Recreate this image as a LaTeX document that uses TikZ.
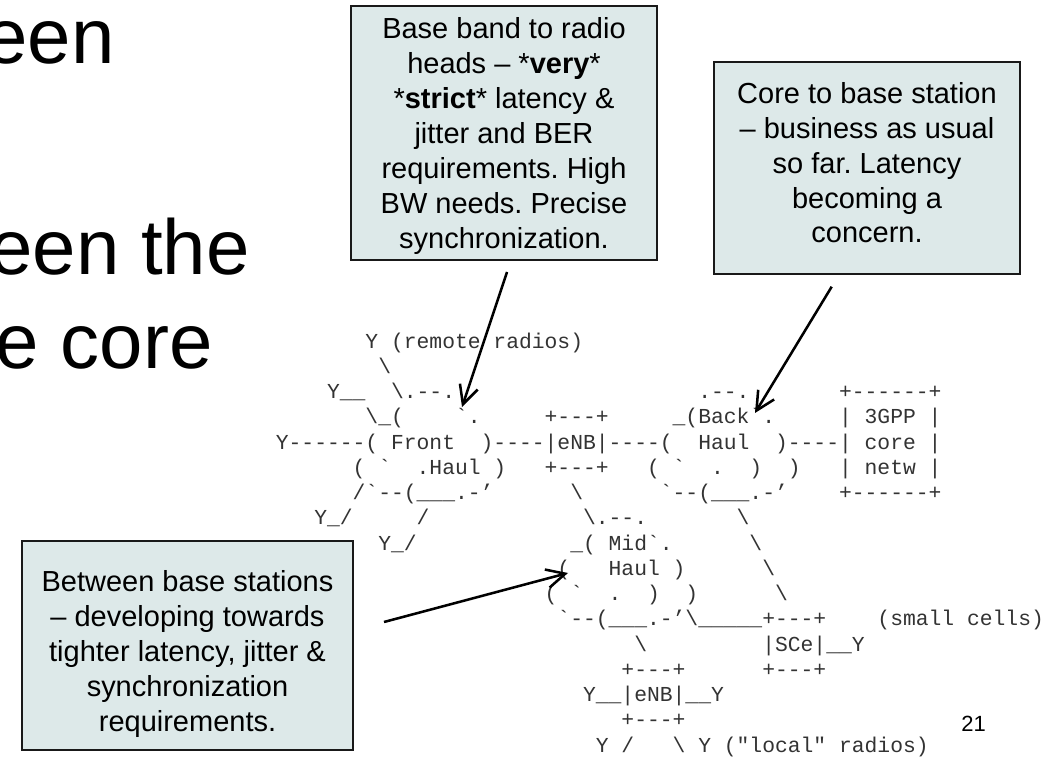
\documentclass[tikz,border=0pt]{standalone}
\usepackage{fontspec}
\setmainfont{Liberation Sans}
\setmonofont{Liberation Mono}
\usetikzlibrary{arrows.meta}
\frenchspacing
\definecolor{calloutfill}{RGB}{221,233,233}
\newcommand\asciifrag[4]{\node[asciitxt] (#1) at ({275.6+12.8*#3},{322.9+25.25*#2}) {#4};}
\tikzset{
  callout/.style={draw=black!90, line width=1.5pt, fill=calloutfill, inner sep=0pt},
  callouttext/.style={align=center, anchor=base, inner sep=0pt, font=\fontsize{21.75}{26.2}\selectfont},
  asciitxt/.style={anchor=base west, inner sep=0pt, text=black!80, font=\ttfamily\fontsize{16}{19}\selectfont},
  bigtxt/.style={anchor=base east, inner sep=0pt, font=\fontsize{58.5}{70}\selectfont},
  pointer/.style={line width=1.9pt, -{Straight Barb[length=14pt,width=14pt]}}
}
\begin{document}
\begin{tikzpicture}[x=0.75pt,y=-0.75pt]
\clip (0,0) rectangle (1051,759);
\fill[white] (0,0) rectangle (1051,759);

% slide text cut at the left edge
\node[bigtxt] (t1) at (114.7,63.3) {een};
\node[bigtxt] (t2) at (250,275) {een the};
\node[bigtxt] (t3) at (213,369) {e core};

% ASCII art
\asciifrag{r1}{1}{7}{Y (remote radios)}
\asciifrag{r2}{2}{8}{\textbackslash}
\asciifrag{r3a}{3}{4}{Y\_\_}
\asciifrag{r3b}{3}{9}{\textbackslash.--.}
\asciifrag{r3c}{3}{33}{.--.}
\asciifrag{r3d}{3}{44}{+------+}
\asciifrag{r4a}{4}{7}{\textbackslash\_(}
\asciifrag{r4b}{4}{14}{\textasciigrave.}
\asciifrag{r4c}{4}{21}{+---+}
\asciifrag{r4d}{4}{31}{\_(Back\textasciigrave.}
\asciifrag{r4e}{4}{44}{| 3GPP |}
\asciifrag{r5a}{5}{0}{Y------( Front}
\asciifrag{r5b}{5}{16}{)----|eNB|----(}
\asciifrag{r5c}{5}{33}{Haul}
\asciifrag{r5d}{5}{39}{)----| core |}
\asciifrag{r6a}{6}{6}{( \textasciigrave}
\asciifrag{r6b}{6}{11}{.Haul )}
\asciifrag{r6c}{6}{21}{+---+}
\asciifrag{r6d}{6}{29}{( \textasciigrave}
\asciifrag{r6e}{6}{34}{.}
\asciifrag{r6f}{6}{37}{)}
\asciifrag{r6g}{6}{40}{)}
\asciifrag{r6h}{6}{44}{| netw |}
\asciifrag{r7a}{7}{6}{/\textasciigrave--(\_\_\_.-’}
\asciifrag{r7b}{7}{23}{\textbackslash}
\asciifrag{r7c}{7}{30}{\textasciigrave--(\_\_\_.-’}
\asciifrag{r7d}{7}{44}{+------+}
\asciifrag{r8a}{8}{3}{Y\_/}
\asciifrag{r8b}{8}{11}{/}
\asciifrag{r8c}{8}{24}{\textbackslash.--.}
\asciifrag{r8d}{8}{36}{\textbackslash}
\asciifrag{r9a}{9}{8}{Y\_/}
\asciifrag{r9b}{9}{23}{\_( Mid\textasciigrave.}
\asciifrag{r9c}{9}{37}{\textbackslash}
\asciifrag{r10a}{10}{22}{(}
\asciifrag{r10b}{10}{26}{Haul )}
\asciifrag{r10c}{10}{38}{\textbackslash}
\asciifrag{r11a}{11}{21}{( \textasciigrave}
\asciifrag{r11b}{11}{26}{.}
\asciifrag{r11c}{11}{29}{)}
\asciifrag{r11d}{11}{32}{)}
\asciifrag{r11e}{11}{39}{\textbackslash}
\asciifrag{r12a}{12}{22}{\textasciigrave--(\_\_\_.-’\textbackslash\_\_\_\_\_+---+}
\asciifrag{r12b}{12}{47}{(small cells)}
\asciifrag{r13a}{13}{28}{\textbackslash}
\asciifrag{r13b}{13}{38}{|SCe|\_\_Y}
\asciifrag{r14a}{14}{27}{+---+}
\asciifrag{r14b}{14}{38}{+---+}
\asciifrag{r15}{15}{24}{Y\_\_|eNB|\_\_Y}
\asciifrag{r16}{16}{27}{+---+}
\asciifrag{r17a}{17}{25}{Y /}
\asciifrag{r17b}{17}{31}{\textbackslash{} Y ("local" radios)}

% callout boxes (text anchored at the baseline of its last line)
\node[callout, minimum width=229.5pt, minimum height=190.5pt] (box1) at (504,133) {};
\node[callouttext] (txt1) at (504,248.5) {Base band to radio\\heads – *\textbf{very}*\\*\textbf{strict}* latency \&\\jitter and BER\\requirements. High\\BW needs. Precise\\synchronization.};

\node[callout, minimum width=229.5pt, minimum height=159pt] (box2) at (867,168) {};
\node[callouttext] (txt2) at (867,243) {Core to base station\\– business as usual\\so far. Latency\\becoming a\\concern.};

\node[callout, minimum width=248.25pt, minimum height=156.75pt] (box3) at (187.5,645.5) {};
\node[callouttext] (txt3) at (187.5,731) {Between base stations\\– developing towards\\tighter latency, jitter \&\\synchronization\\requirements.};

% pointers
\coordinate (a1s) at (507,272);
\coordinate (a1e) at (462,407);
\coordinate (a2s) at (831.7,286.7);
\coordinate (a2e) at (755,413);
\coordinate (a3s) at (384,622);
\coordinate (a3e) at (568,573);
\draw[pointer] (a1s) -- (a1e);
\draw[pointer] (a2s) -- (a2e);
\draw[pointer] (a3s) -- (a3e);

% page number
\node[anchor=base east, inner sep=0pt, font=\fontsize{16.5}{20}\selectfont] (pg) at (986,731.7) {21};
\end{tikzpicture}
\end{document}
